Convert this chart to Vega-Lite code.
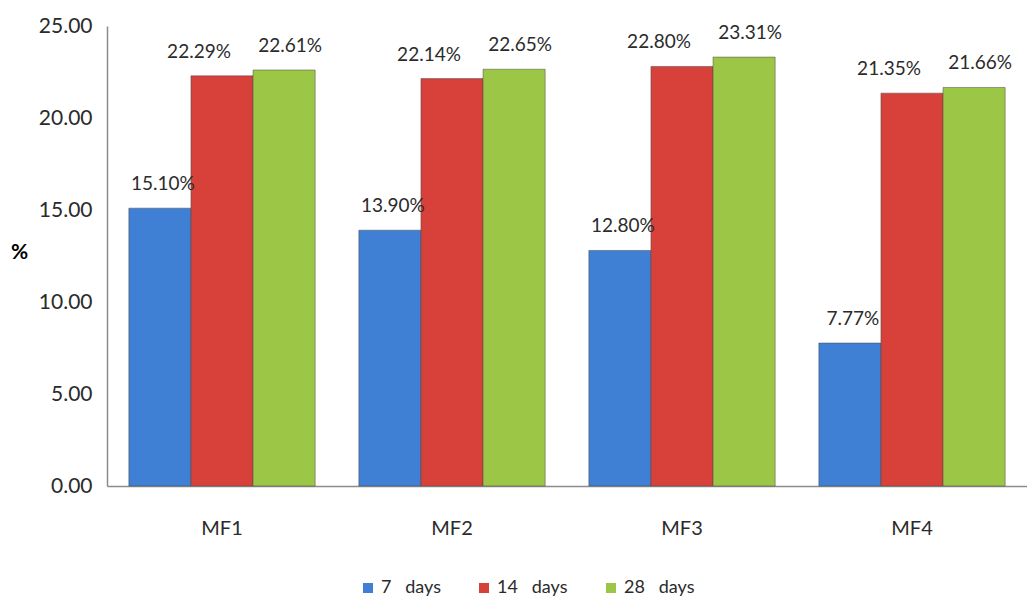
{
  "$schema": "https://vega.github.io/schema/vega-lite/v6.json",
  "autosize": {"type": "none"},
  "width": 920,
  "height": 460,
  "padding": {"left": 107, "top": 26, "right": 0, "bottom": 118},
  "background": "white",
  "config": {
    "view": {"stroke": null},
    "font": "Lato",
    "axis": {"labelFont": "Lato", "titleFont": "Lato"},
    "legend": {"labelFont": "Lato"},
    "text": {"baseline": "alphabetic", "dy": -18, "fontSize": 19, "color": "#2b2b2b"}
  },
  "data": {
    "values": [
      {"mix": "MF1", "age": "7 days", "value": 15.10},
      {"mix": "MF1", "age": "14 days", "value": 22.29},
      {"mix": "MF1", "age": "28 days", "value": 22.61},
      {"mix": "MF2", "age": "7 days", "value": 13.90},
      {"mix": "MF2", "age": "14 days", "value": 22.14},
      {"mix": "MF2", "age": "28 days", "value": 22.65},
      {"mix": "MF3", "age": "7 days", "value": 12.80},
      {"mix": "MF3", "age": "14 days", "value": 22.80},
      {"mix": "MF3", "age": "28 days", "value": 23.31},
      {"mix": "MF4", "age": "7 days", "value": 7.77},
      {"mix": "MF4", "age": "14 days", "value": 21.35},
      {"mix": "MF4", "age": "28 days", "value": 21.66}
    ]
  },
  "transform": [{"calculate": "format(datum.value, '.2f') + '%'", "as": "label"}],
  "encoding": {
    "x": {
      "field": "mix",
      "type": "nominal",
      "scale": {"paddingInner": 0.19, "paddingOuter": 0.095},
      "axis": {
        "title": null,
        "labelAngle": 0,
        "labelFontSize": 20,
        "labelColor": "#2b2b2b",
        "labelPadding": 32,
        "ticks": false,
        "domainColor": "#8c8c8c",
        "domainWidth": 1.5
      }
    },
    "xOffset": {"field": "age", "type": "nominal", "sort": ["7 days", "14 days", "28 days"]},
    "y": {
      "field": "value",
      "type": "quantitative",
      "scale": {"domain": [0, 25]},
      "axis": {
        "values": [0, 5, 10, 15, 20, 25],
        "format": ".2f",
        "grid": false,
        "ticks": false,
        "labelFontSize": 21,
        "labelColor": "#2b2b2b",
        "labelPadding": 15,
        "domainColor": "#8c8c8c",
        "domainWidth": 1.5,
        "title": "%",
        "titleAngle": 0,
        "titleFontSize": 21,
        "titleFontWeight": "bold",
        "titleColor": "#000000",
        "titleX": -88,
        "titleY": 236,
        "titleAlign": "center"
      }
    }
  },
  "layer": [
    {
      "mark": {"type": "bar", "stroke": "#4a4a4a", "strokeWidth": 1, "strokeOpacity": 0.5},
      "encoding": {
        "color": {
          "field": "age",
          "type": "nominal",
          "sort": ["7 days", "14 days", "28 days"],
          "scale": {"domain": ["7 days", "14 days", "28 days"], "range": ["#3f7fd4", "#d8403a", "#9cc646"]},
          "legend": {
            "title": null,
            "orient": "none",
            "direction": "horizontal",
            "legendX": 252,
            "legendY": 553,
            "symbolType": "square",
            "symbolSize": 100,
            "symbolStrokeWidth": 0,
            "labelFontSize": 18,
            "labelColor": "#2b2b2b",
            "labelExpr": "replace(datum.label, ' ', '\u00a0\u00a0\u00a0')",
            "columnPadding": 34,
            "labelOffset": 4
          }
        }
      }
    },
    {
      "transform": [{"filter": "datum.age === '7 days'"}],
      "mark": {"type": "text", "dx": 3},
      "encoding": {"text": {"field": "label", "type": "nominal"}}
    },
    {
      "transform": [{"filter": "datum.age === '14 days'"}],
      "mark": {"type": "text", "dx": -23},
      "encoding": {"text": {"field": "label", "type": "nominal"}}
    },
    {
      "transform": [{"filter": "datum.age === '28 days'"}],
      "mark": {"type": "text", "dx": 6},
      "encoding": {"text": {"field": "label", "type": "nominal"}}
    }
  ]
}
